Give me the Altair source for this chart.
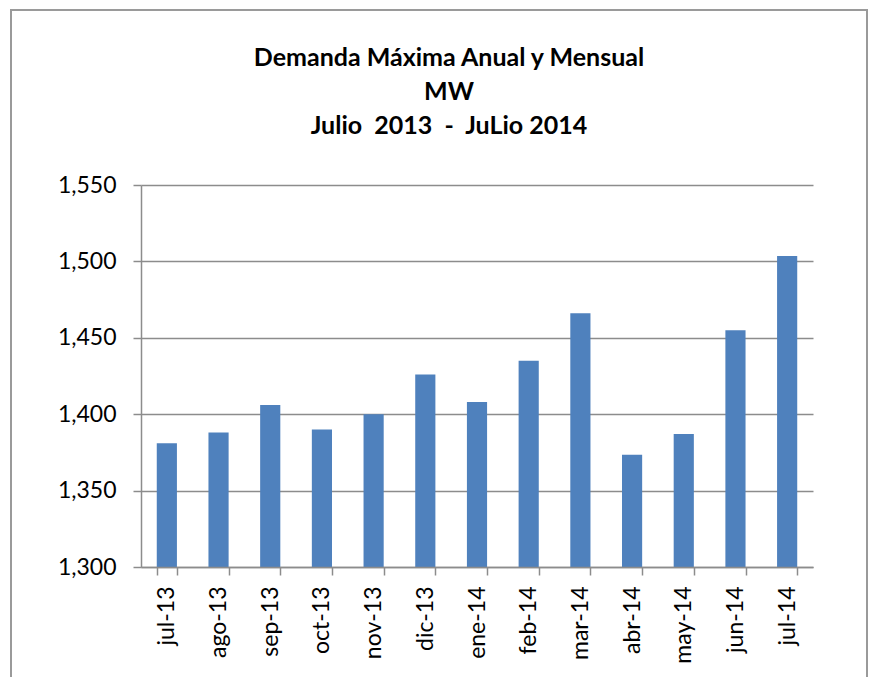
import altair as alt
import pandas as pd

months = ["jul-13", "ago-13", "sep-13", "oct-13", "nov-13", "dic-13", "ene-14",
          "feb-14", "mar-14", "abr-14", "may-14", "jun-14", "jul-14"]
demand_mw = [1381, 1388, 1406, 1390, 1400, 1426, 1408,
             1435, 1466, 1373.5, 1387, 1455, 1503.5]
y_ticks = [1300, 1350, 1400, 1450, 1500, 1550]
title_text = ("Demanda Máxima Anual y Mensual\nMW\n"
              "Julio\u00a0\u00a02013\u00a0\u00a0-\u00a0\u00a0JuLio 2014")

df = pd.DataFrame({"mes": months, "mw": demand_mw})

FONT = "Lato"
GRAY = "#8c8c8c"

bars = alt.Chart(df).mark_bar(color="#4F81BD", clip=True).encode(
    x=alt.X("mes:N", sort=months, title=None,
            scale=alt.Scale(paddingInner=0.61, paddingOuter=0.305),
            axis=alt.Axis(labelAngle=-90, labelFont=FONT, labelFontSize=23,
                          labelColor="#000000", labelPadding=11,
                          tickBand="extent", tickSize=8, tickColor=GRAY,
                          domainColor=GRAY, domainWidth=1.5, tickWidth=1.5,
                          grid=False, zindex=1)),
    y=alt.Y("mw:Q", title=None,
            scale=alt.Scale(domain=[1300, 1550], nice=False, zero=False),
            axis=alt.Axis(values=y_ticks, format=",d", labelFont=FONT,
                          labelFontSize=23, labelColor="#000000", labelPadding=17,
                          tickSize=8, tickColor=GRAY, tickWidth=1.5,
                          domainColor=GRAY, domainWidth=1.5,
                          grid=True, gridColor=GRAY, gridWidth=1.5)),
)

border = alt.Chart(pd.DataFrame({"a": [0]})).mark_rect(
    fill=None, stroke="#9a9a9a", strokeWidth=2
).encode(
    x=alt.value(-130), x2=alt.value(726),
    y=alt.value(-175), y2=alt.value(700),
)

title = alt.Chart(pd.DataFrame({"a": [0]})).mark_text(
    text=title_text, lineBreak="\n", lineHeight=34, font=FONT, fontSize=25,
    fontWeight="bold", color="#000000", align="center", baseline="alphabetic"
).encode(x=alt.value(308), y=alt.value(-119))

chart = alt.layer(border, bars, title).properties(
    width=672, height=382,
    autosize=alt.AutoSizeParams(type="none"),
    padding={"left": 133, "top": 177, "right": 56, "bottom": 110},
).configure_view(stroke=None)

chart.save("out.html", embed_options={"renderer": "svg", "actions": False})
